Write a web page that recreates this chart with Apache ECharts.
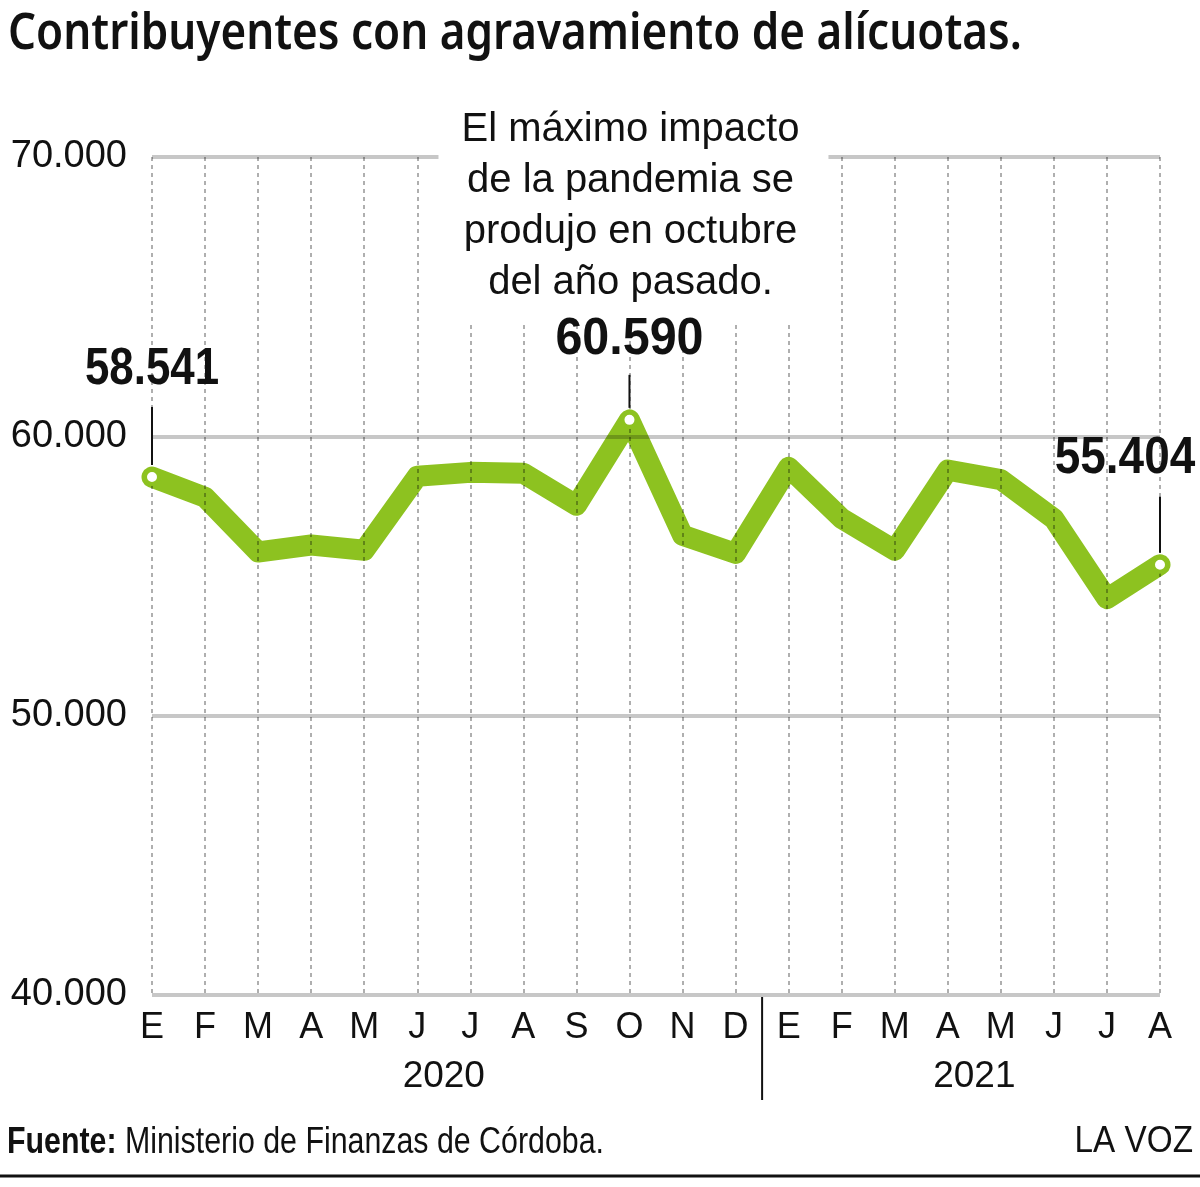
<!DOCTYPE html>
<html>
<head>
<meta charset="utf-8">
<script src="https://cdn.jsdelivr.net/npm/echarts@6/dist/echarts.min.js"></script>
<style>
  html, body { margin: 0; background: #fff; }
  #chart { width: 1200px; height: 1187px; }
</style>
</head>
<body>
<div id="chart"></div>
<script>
var months = ["E", "F", "M", "A", "M", "J", "J", "A", "S", "O", "N", "D",
              "E", "F", "M", "A", "M", "J", "J", "A"];
var values = [58541, 57820, 55860, 56110, 55920, 58570, 58710, 58680, 57530, 60590, 56460, 55810,
              58890, 57060, 55920, 58790, 58450, 57050, 54190, 55404];
var years = ["2020", "2021"];
var yearRanges = [[0, 11], [12, 19]];
var highlighted = [0, 9, 19];
var yMin = 40000, yMax = 70000, yStep = 10000;

var title = "Contribuyentes con agravamiento de alícuotas.";
var note = ["El máximo impacto", "de la pandemia se", "produjo en octubre", "del año pasado."];
var sourceLabel = "Fuente:";
var sourceText = "Ministerio de Finanzas de Córdoba.";
var brand = "LA VOZ";

var GREEN = "#8dc220";
var INK = "#111";
var SANS = '"Liberation Sans", Arial, sans-serif';

// where each callout label / leader sits relative to its point (px)
var calloutPos = [
  { dx: 0, dy: -107, top: -70, scale: 0.86 },
  { dx: 0, dy: -80, top: -45, scale: 0.95 },
  { dx: -35, dy: -106, top: -68, scale: 0.9 }
];

function fmt(v) {
  return String(v).replace(/\B(?=(\d{3})+(?!\d))/g, ".");
}

var chart = echarts.init(document.getElementById("chart"));

chart.setOption({
  animation: false,
  backgroundColor: "#fff",
  grid: { left: 152, right: 40, top: 157, bottom: 192 },
  xAxis: {
    type: "category",
    data: months,
    boundaryGap: false,
    z: 3,
    axisLine: { show: false },
    axisTick: { show: false },
    axisLabel: {
      interval: 0,
      margin: 33,
      verticalAlign: "middle",
      color: INK,
      fontFamily: SANS,
      fontSize: 36
    },
    splitLine: {
      show: true,
      interval: 0,
      lineStyle: { color: "rgba(0,0,0,0.42)", width: 1.5, type: [4, 4] }
    }
  },
  yAxis: {
    type: "value",
    min: yMin,
    max: yMax,
    interval: yStep,
    z: 3,
    axisLine: { show: false },
    axisTick: { show: false },
    axisLabel: {
      margin: 25,
      color: INK,
      fontFamily: SANS,
      fontSize: 38,
      formatter: function (v) { return fmt(v); }
    },
    splitLine: { lineStyle: { color: "rgba(0,0,0,0.22)", width: 4 } }
  },
  series: [
    {
      type: "line",
      data: values,
      z: 2,
      symbol: "none",
      lineStyle: { color: GREEN, width: 21, join: "round", cap: "round" }
    },
    {
      type: "custom",
      z: 10,
      data: highlighted.map(function (i) { return [i, values[i]]; }),
      renderItem: function (params, api) {
        var p = api.coord([api.value(0), api.value(1)]);
        var c = calloutPos[params.dataIndex];
        return {
          type: "group",
          children: [
            {
              type: "line",
              shape: { x1: p[0], y1: p[1] - 12, x2: p[0], y2: p[1] + c.top },
              style: { stroke: INK, lineWidth: 2 }
            },
            {
              type: "circle",
              shape: { cx: p[0], cy: p[1], r: 7 },
              style: { fill: "#fff", stroke: GREEN, lineWidth: 4 }
            },
            {
              type: "text",
              x: p[0] + c.dx,
              y: p[1] + c.dy,
              scaleX: c.scale,
              style: {
                text: fmt(api.value(1)),
                fill: INK,
                font: "bold 51px " + SANS,
                align: "center", textAlign: "center",
                verticalAlign: "middle", textVerticalAlign: "middle"
              }
            }
          ]
        };
      }
    }
  ]
});

// positions that depend on the axis scale
function px(i) { return chart.convertToPixel({ xAxisIndex: 0 }, i); }

var elements = [];

elements.push({
  type: "text", x: 8, y: 35, z: 100, scaleX: 0.88,
  style: {
    text: title, fill: INK, font: '600 50px "Noto Sans", sans-serif',
    align: "left", textAlign: "left", verticalAlign: "middle", textVerticalAlign: "middle"
  }
});

var noteX = px(9);
elements.push({
  type: "rect", z: 5,
  shape: { x: noteX - 191, y: 90, width: 390, height: 233 },
  style: { fill: "#fff" }
});
note.forEach(function (line, k) {
  elements.push({
    type: "text", x: noteX + 1, y: 130 + k * 51, z: 100,
    style: {
      text: line, fill: INK, font: "40px " + SANS,
      align: "center", textAlign: "center", verticalAlign: "middle", textVerticalAlign: "middle"
    }
  });
});

var sepX = (px(yearRanges[0][1]) + px(yearRanges[1][0])) / 2;
elements.push({
  type: "line", z: 100,
  shape: { x1: sepX, y1: 997, x2: sepX, y2: 1100 },
  style: { stroke: INK, lineWidth: 2 }
});

years.forEach(function (y, k) {
  var cx = (px(yearRanges[k][0]) + px(yearRanges[k][1])) / 2;
  elements.push({
    type: "text", x: cx, y: 1077, z: 100,
    style: {
      text: y, fill: INK, font: "37px " + SANS,
      align: "center", textAlign: "center", verticalAlign: "middle", textVerticalAlign: "middle"
    }
  });
});

elements.push({
  type: "text", x: 7, y: 1143, z: 100, scaleX: 0.82,
  style: {
    text: "{b|" + sourceLabel + " }{r|" + sourceText + "}",
    align: "left", textAlign: "left", verticalAlign: "middle", textVerticalAlign: "middle",
    rich: {
      b: { font: "bold 37px " + SANS, fill: INK, color: INK },
      r: { font: "37px " + SANS, fill: INK, color: INK }
    }
  }
});

elements.push({
  type: "text", x: 1193, y: 1142, z: 100, scaleX: 0.9,
  style: {
    text: brand, fill: INK, font: "37px " + SANS,
    align: "right", textAlign: "right", verticalAlign: "middle", textVerticalAlign: "middle"
  }
});

elements.push({
  type: "line", z: 100,
  shape: { x1: 0, y1: 1176, x2: 1200, y2: 1176 },
  style: { stroke: INK, lineWidth: 3 }
});

chart.setOption({ graphic: { elements: elements } });
</script>
</body>
</html>
